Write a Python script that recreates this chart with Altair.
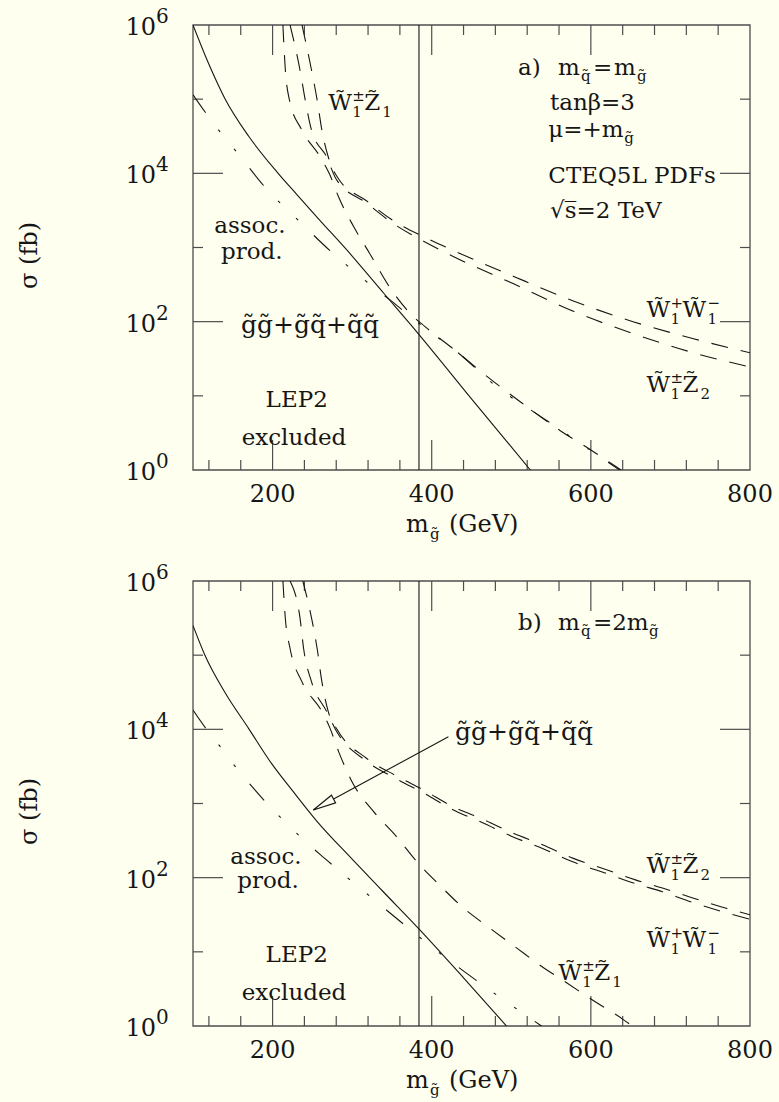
import altair as alt
import pandas as pd

FONT = "DejaVu Serif"
BG = "#fffff0"
INK = "#161616"
FRAME = "#4d4d4d"
W, H = 557, 445

# ---------------- axis furniture ----------------
X_MINOR = [120, 160, 240, 280, 320, 360, 440, 480, 520, 560, 640, 680, 720, 760]
X_MAJOR = [200, 400, 600]
X_LABELS = [200, 400, 600, 800]
Y_MINOR = [1, 3, 5]          # decades (log10 sigma)
Y_MAJOR = [2, 4]
Y_LABELS = [0, 2, 4, 6]
M_LIMIT = [384]              # vertical reference line, GeV

# ---------------- panel (a): m_sq = m_gl ----------------
# gluino/squark production (solid), log10(sigma/fb) vs m_gluino (GeV)
A_GLU_M = [100, 120, 140, 170, 207, 230, 260, 293, 340, 383, 450, 524]
A_GLU_LG = [6.0, 5.47, 5.01, 4.5, 4.0, 3.72, 3.36, 2.97, 2.38, 1.84, 0.96, 0.0]
# associated production (dash-dot)
A_ASC_M = [100, 115, 134, 160, 190, 234, 276, 300, 325, 348, 373, 392, 431, 482, 540, 599, 636]
A_ASC_LG = [5.06, 4.83, 4.56, 4.22, 3.82, 3.35, 2.92, 2.70, 2.48, 2.29, 2.07, 1.91, 1.6, 1.12, 0.7, 0.27, 0.0]
# W1 Z1 (dashed)
A_WZ1_M = [213, 216, 221, 237, 260, 272, 283, 302, 322, 348, 373, 392, 431, 465, 510, 563, 600, 638]
A_WZ1_LG = [6.0, 5.4, 5.0, 4.58, 4.22, 3.98, 3.68, 3.28, 2.92, 2.45, 2.11, 1.93, 1.6, 1.3, 0.93, 0.52, 0.27, 0.0]
# W1 Z2 (dashed)
A_WZ2_M = [222, 234.5, 241, 249, 268, 280, 318, 352, 389, 427, 503, 578, 653, 729, 800]
A_WZ2_LG = [6.0, 5.39, 4.99, 4.58, 4.22, 3.92, 3.6, 3.32, 3.09, 2.88, 2.51, 2.14, 1.84, 1.58, 1.39]
# W1+ W1- (dashed)
A_WW_M = [237, 249, 256, 262, 270, 282, 318, 352, 389, 427, 503, 578, 653, 729, 800]
A_WW_LG = [6.0, 5.39, 4.99, 4.58, 4.22, 3.94, 3.63, 3.36, 3.15, 2.96, 2.61, 2.28, 2.0, 1.77, 1.58]

# ---------------- panel (b): m_sq = 2 m_gl ----------------
B_GLU_M = [100, 115, 140, 170, 200, 226, 255, 300, 340, 383, 440, 494]
B_GLU_LG = [5.4, 5.0, 4.5, 4.01, 3.52, 3.16, 2.77, 2.25, 1.8, 1.32, 0.65, 0.0]
B_ASC_M = [100, 117, 134, 153, 174, 193, 214, 235, 260, 281, 304, 327, 348, 373, 396, 419, 444, 467, 492, 519, 538]
B_ASC_LG = [4.26, 4.0, 3.77, 3.5, 3.23, 3.0, 2.77, 2.55, 2.31, 2.12, 1.91, 1.71, 1.52, 1.3, 1.1, 0.91, 0.71, 0.53, 0.34, 0.14, 0.0]
B_WZ1_M = [213, 216, 222, 237, 262, 272, 283, 301, 327, 356, 381, 408, 440, 473, 507, 536, 570, 605, 639, 652]
B_WZ1_LG = [6.0, 5.5, 5.09, 4.64, 4.24, 4.02, 3.7, 3.27, 2.89, 2.55, 2.22, 1.92, 1.59, 1.32, 1.05, 0.82, 0.58, 0.33, 0.1, 0.0]
B_WZ2_M = [238, 249, 256, 262, 270, 281, 318, 356, 390, 426, 464, 500, 540, 578, 616, 656, 690, 727, 769, 800]
B_WZ2_LG = [6.0, 5.5, 5.09, 4.64, 4.24, 4.0, 3.61, 3.37, 3.18, 2.96, 2.79, 2.61, 2.44, 2.26, 2.12, 1.97, 1.86, 1.73, 1.59, 1.5]
B_WW_M = [222, 234.5, 239, 249, 268, 280, 318, 356, 390, 426, 464, 500, 540, 578, 616, 656, 690, 727, 769, 800]
B_WW_LG = [6.0, 5.5, 5.09, 4.64, 4.24, 3.98, 3.57, 3.33, 3.14, 2.92, 2.74, 2.56, 2.39, 2.21, 2.07, 1.92, 1.81, 1.67, 1.53, 1.44]

XS = alt.Scale(domain=[100, 800], nice=False, zero=False)
YS = alt.Scale(type="log", domain=[1, 1e6], nice=False)
X = alt.X("m:Q", scale=XS, axis=None)
Y = alt.Y("sigma:Q", scale=YS, axis=None)
ONE = pd.DataFrame({"k": [0]})

TL = "W\u0303"   # W with tilde
ZT = "Z\u0303"
GT = "g\u0303"
QT = "q\u0303"


def curves(*series):
    rows = []
    for name, ms, lgs in series:
        for m, lg in zip(ms, lgs):
            rows.append({"series": name, "m": m, "sigma": 10 ** lg})
    return pd.DataFrame(rows)


def text_at(m, lg, text, dx=0, dy=0, size=22, align="left"):
    return alt.Chart(ONE).mark_text(
        text=text, dx=dx, dy=dy, fontSize=size, font=FONT, color=INK,
        align=align, baseline="alphabetic",
    ).encode(x=alt.datum(m), y=alt.datum(10 ** lg))


def rich(m, lg, pieces):
    return [text_at(m, lg, t, dx, dy, s) for t, dx, dy, s in pieces]


def wz_label(m, lg, sub):
    return rich(m, lg, [(TL, 0, 0, 23), ("\u00b1", 24, -9, 15), ("1", 24, 7, 15),
                        (ZT, 36, 0, 23), (sub, 54, 7, 15)])


def ww_label(m, lg):
    return rich(m, lg, [(TL, 0, 0, 23), ("+", 24, -9, 15), ("1", 24, 7, 15),
                        (TL, 36, 0, 23), ("\u2212", 61, -9, 15), ("1", 61, 7, 15)])


def pix_text(x, y, text, size, align="left", baseline="alphabetic", angle=0):
    return alt.Chart(ONE).mark_text(
        text=text, fontSize=size, font=FONT, color=INK, align=align,
        baseline=baseline, angle=angle,
    ).encode(x=alt.value(x), y=alt.value(y))


def frame_layers(top, bottom):
    layers = [
        # invisible box that fixes the panel's outer extent
        alt.Chart(ONE).mark_rect(fill=BG, opacity=0, strokeWidth=0).encode(
            x=alt.value(-193), x2=alt.value(W + 29),
            y=alt.value(-top), y2=alt.value(bottom)),
        # plot frame
        alt.Chart(ONE).mark_rect(fillOpacity=0, stroke=FRAME, strokeWidth=1.3).encode(
            x=alt.value(0), x2=alt.value(W), y=alt.value(0), y2=alt.value(H)),
    ]
    tick = dict(color=FRAME, strokeWidth=1.2)
    for vals, ln in ((X_MINOR, 10), (X_MAJOR, 30)):
        d = pd.DataFrame({"m": vals})
        layers.append(alt.Chart(d).mark_rule(**tick).encode(
            x=X, y=alt.value(H), y2=alt.value(H - ln)))
        layers.append(alt.Chart(d).mark_rule(**tick).encode(
            x=X, y=alt.value(0), y2=alt.value(ln)))
    for vals, ln in ((Y_MINOR, 10), (Y_MAJOR, 30)):
        d = pd.DataFrame({"sigma": [10 ** e for e in vals]})
        layers.append(alt.Chart(d).mark_rule(**tick).encode(
            y=Y, x=alt.value(0), x2=alt.value(ln)))
        layers.append(alt.Chart(d).mark_rule(**tick).encode(
            y=Y, x=alt.value(W), x2=alt.value(W - ln)))
    # tick labels
    xl = pd.DataFrame({"m": X_LABELS, "lab": [str(v) for v in X_LABELS]})
    layers.append(alt.Chart(xl).mark_text(
        font=FONT, fontSize=24, color=INK, baseline="middle").encode(
        x=X, y=alt.value(H + 25), text="lab:N"))
    yl = pd.DataFrame({"sigma": [10 ** e for e in Y_LABELS],
                       "e": [str(e) for e in Y_LABELS]})
    layers.append(alt.Chart(yl).mark_text(
        text="10", font=FONT, fontSize=24, color=INK, align="right",
        baseline="middle", dy=3).encode(x=alt.value(-37), y=Y))
    layers.append(alt.Chart(yl).mark_text(
        font=FONT, fontSize=20, color=INK, align="left",
        baseline="middle", dy=-8).encode(x=alt.value(-37), y=Y, text="e:N"))
    # axis titles
    layers.append(pix_text(-163, H / 2 + 8, "\u03c3  (fb)", 24,
                           align="center", baseline="middle", angle=270))
    layers.append(pix_text(213, H + 62, "m", 24))
    layers.append(pix_text(237, H + 69, GT, 15))
    layers.append(pix_text(256, H + 62, "(GeV)", 24))
    return layers


def curve_layers(solid, dashed, dashdot):
    line = dict(color=INK, strokeWidth=1.1, clip=True, interpolate="monotone")
    return [
        alt.Chart(solid).mark_line(**line).encode(x=X, y=Y, detail="series:N"),
        alt.Chart(dashed).mark_line(strokeDash=[17, 13], **line).encode(
            x=X, y=Y, detail="series:N"),
        alt.Chart(dashdot).mark_line(strokeDash=[22, 21, 3, 22, 3, 22], **line).encode(
            x=X, y=Y, detail="series:N"),
        alt.Chart(pd.DataFrame({"m": M_LIMIT})).mark_rule(
            color=INK, strokeWidth=1.1).encode(x=X),
    ]


# ---------------- panel (a) ----------------
a_layers = frame_layers(25, 525) + curve_layers(
    curves(("gluino-squark", A_GLU_M, A_GLU_LG)),
    curves(("W1Z1", A_WZ1_M, A_WZ1_LG), ("W1Z2", A_WZ2_M, A_WZ2_LG),
           ("W1W1", A_WW_M, A_WW_LG)),
    curves(("assoc", A_ASC_M, A_ASC_LG)),
)
a_layers += wz_label(270, 4.855, "1")
a_layers += rich(508.4, 5.326, [("a)", 0, 0, 23), ("m", 40, 0, 23), (QT, 63, 6, 15),
                                ("=", 75, 0, 23), ("m", 96, 0, 23), (GT, 119, 6, 15)])
a_layers.append(text_at(548.7, 4.854, "tan\u03b2=3", size=23))
a_layers += rich(546.5, 4.494, [("\u03bc=+m", 0, 0, 23), (GT, 76, 6, 15)])
a_layers.append(text_at(546.5, 3.866, "CTEQ5L PDFs", size=23))
a_layers.append(text_at(548.7, 3.393, "\u221as\u0305=2 TeV", size=23))
a_layers.append(text_at(171.6, 3.19, "assoc.", size=23, align="center"))
a_layers.append(text_at(173.8, 2.85, "prod.", size=23, align="center"))
a_layers.append(text_at(247, 1.843, f"{GT}{GT}+{GT}{QT}+{QT}{QT}", size=25, align="center"))
a_layers.append(text_at(230.3, 0.853, "LEP2", size=23, align="center"))
a_layers.append(text_at(226.9, 0.337, "excluded", size=23, align="center"))
a_layers += ww_label(670, 2.067)
a_layers += wz_label(670, 1.056, "2")

panel_a = alt.layer(*a_layers).properties(width=W, height=H)

# ---------------- panel (b) ----------------
b_layers = frame_layers(31, 521) + curve_layers(
    curves(("gluino-squark", B_GLU_M, B_GLU_LG)),
    curves(("W1Z1", B_WZ1_M, B_WZ1_LG), ("W1Z2", B_WZ2_M, B_WZ2_LG),
           ("W1W1", B_WW_M, B_WW_LG)),
    curves(("assoc", B_ASC_M, B_ASC_LG)),
)
b_layers += rich(508.4, 5.339, [("b)", 0, 0, 23), ("m", 40, 0, 23), (QT, 63, 6, 15),
                                ("=2m", 75, 0, 23), (GT, 131, 6, 15)])
b_layers.append(text_at(429.3, 3.856, f"{GT}{GT}+{GT}{QT}+{QT}{QT}", size=25))
b_layers.append(text_at(191.7, 2.19, "assoc.", size=23, align="center"))
b_layers.append(text_at(194.3, 1.86, "prod.", size=23, align="center"))
b_layers.append(text_at(230.3, 0.867, "LEP2", size=23, align="center"))
b_layers.append(text_at(226.9, 0.35, "excluded", size=23, align="center"))
b_layers += wz_label(670, 2.059, "2")
b_layers += ww_label(670, 1.069)
b_layers += wz_label(559, 0.62, "1")
# arrow from the label to the strong-production curve
b_layers.append(alt.Chart(ONE).mark_rule(color=INK, strokeWidth=1.1).encode(
    x=alt.datum(421), y=alt.datum(10 ** 3.9),
    x2=alt.datum(251.2), y2=alt.datum(10 ** 2.912)))
b_layers.append(alt.Chart(ONE).mark_point(
    shape="M0,0L0.38,2L-0.38,2Z", size=529, angle=241.5, filled=True,
    fill=BG, stroke=INK, strokeWidth=1.1, opacity=1).encode(
    x=alt.datum(251.2), y=alt.datum(10 ** 2.912)))

panel_b = alt.layer(*b_layers).properties(width=W, height=H)

chart = alt.vconcat(panel_a, panel_b, spacing=0).properties(
    padding=0, background=BG
).configure_view(stroke=None)

chart.save("out.html", embed_options={"renderer": "svg", "actions": False})
